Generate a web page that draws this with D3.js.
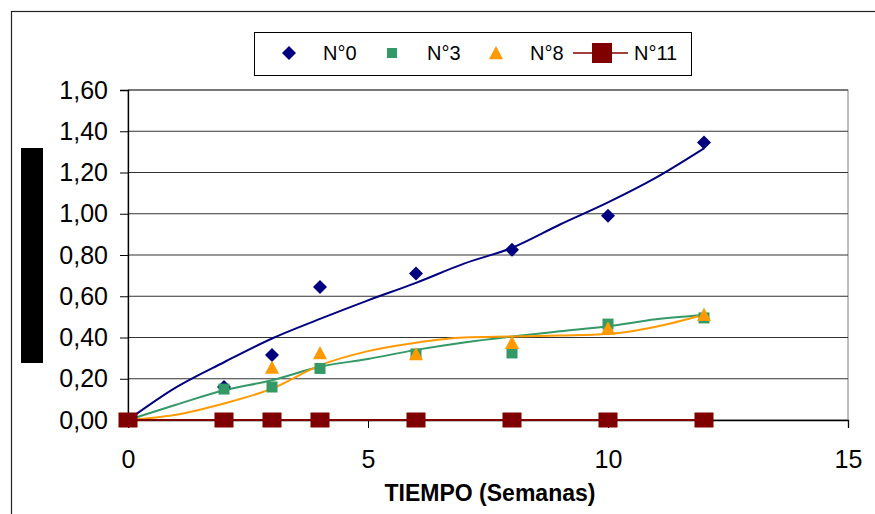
<!DOCTYPE html>
<html>
<head>
<meta charset="utf-8">
<script src="https://cdn.jsdelivr.net/npm/d3@7/dist/d3.min.js"></script>
<style>
  html, body { margin: 0; padding: 0; background: #fff; }
  svg { display: block; font-family: "Liberation Sans", Arial, sans-serif; }
</style>
</head>
<body>
<svg id="chart" width="875" height="514"></svg>
<script>
// Measured samples (weeks) for each batch
const weeks = [0, 2, 3, 4, 6, 8, 10, 12];
const n0  = [0, 0.16, 0.315, 0.645, 0.71, 0.825, 0.99, 1.345];
const n3  = [0, 0.15, 0.16, 0.25, 0.32, 0.325, 0.465, 0.495];
const n8  = [0, 0, 0.255, 0.325, 0.32, 0.375, 0.445, 0.51];
const n11 = [0, 0, 0, 0, 0, 0, 0, 0];

// Trend lines, sampled week by week
const trendWeeks = [0, 1, 2, 3, 4, 5, 6, 7, 8, 9, 10, 11, 12];
const trend0 = [0, 0.158, 0.28, 0.395, 0.49, 0.58, 0.665, 0.758, 0.835, 0.948, 1.055, 1.175, 1.317];
const trend3 = [0, 0.074, 0.144, 0.193, 0.258, 0.296, 0.34, 0.376, 0.405, 0.43, 0.454, 0.488, 0.509];
const trend8 = [0, 0.025, 0.08, 0.152, 0.265, 0.334, 0.375, 0.4, 0.405, 0.41, 0.417, 0.452, 0.51];

// Axis ticks
const yTicks = [0, 0.2, 0.4, 0.6, 0.8, 1.0, 1.2, 1.4, 1.6];
const xTicks = [0, 5, 10, 15];

// Legend labels
const seriesNames = ["N°0", "N°3", "N°8", "N°11"];
const xTitle = "TIEMPO (Semanas)";

const svg = d3.select("#chart");
const plot = { left: 128, right: 848, top: 90, bottom: 420 };

const x = d3.scaleLinear().domain([0, 15]).range([plot.left, plot.right]);
const y = d3.scaleLinear().domain([0, 1.6]).range([plot.bottom, plot.top]);

const es = d3.formatLocale({ decimal: ",", thousands: ".", grouping: [3], currency: ["", "€"] });
const fmtY = es.format(".2f");

const navy = "#000080", green = "#339966", orange = "#FF9900", maroon = "#800000";

// Outer chart frame
svg.append("rect")
  .attr("x", 11.5).attr("y", 11.5).attr("width", 900).attr("height", 600)
  .attr("fill", "none").attr("stroke", "#222").attr("stroke-width", 1.2);

// Dark block on the left side
svg.append("rect")
  .attr("x", 21).attr("y", 148).attr("width", 22).attr("height", 215)
  .attr("fill", "#000");

// Plot area border
svg.append("rect")
  .attr("x", plot.left).attr("y", plot.top)
  .attr("width", plot.right - plot.left).attr("height", plot.bottom - plot.top)
  .attr("fill", "none").attr("stroke", "#808080").attr("stroke-width", 1);

// Horizontal gridlines
svg.append("g").selectAll("line").data(yTicks.filter(d => d > 0)).join("line")
  .attr("x1", plot.left).attr("x2", plot.right)
  .attr("y1", d => y(d)).attr("y2", d => y(d))
  .attr("stroke", "#333").attr("stroke-width", 1);

// Y axis
const yAxis = d3.axisLeft(y).tickValues(yTicks).tickFormat(fmtY).tickSize(8).tickPadding(12);
const gy = svg.append("g").attr("transform", `translate(${plot.left},0)`).call(yAxis);
gy.select(".domain").attr("stroke", "#000").attr("stroke-width", 1.3);
gy.selectAll(".tick line").attr("stroke", "#000");
gy.selectAll(".tick text").attr("font-size", 25).attr("fill", "#000")
  .attr("font-family", "Liberation Sans, Arial, sans-serif");

// X axis
const xAxis = d3.axisBottom(x).tickValues(xTicks).tickFormat(d3.format("d")).tickSize(8).tickPadding(22);
const gx = svg.append("g").attr("transform", `translate(0,${plot.bottom})`).call(xAxis);
gx.select(".domain").attr("stroke", "#000").attr("stroke-width", 1.3);
gx.selectAll(".tick line").attr("stroke", "#000");
gx.selectAll(".tick text").attr("font-size", 25).attr("fill", "#000")
  .attr("font-family", "Liberation Sans, Arial, sans-serif");

// X axis title
svg.append("text")
  .attr("x", 490).attr("y", 500.5)
  .attr("text-anchor", "middle")
  .attr("font-size", 23).attr("font-weight", "bold")
  .text(xTitle);

// Trend lines
const trendLine = d3.line().x(d => x(d[0])).y(d => y(d[1])).curve(d3.curveMonotoneX);
const trends = [[trend0, navy], [trend3, green], [trend8, orange]];
trends.forEach(([vals, col]) => {
  svg.append("path")
    .attr("d", trendLine(trendWeeks.map((w, i) => [w, vals[i]])))
    .attr("fill", "none").attr("stroke", col).attr("stroke-width", 2);
});

// N°11 connecting line
const flatLine = d3.line().x(d => x(d[0])).y(d => y(d[1]));
svg.append("path")
  .attr("d", flatLine(weeks.map((w, i) => [w, n11[i]])))
  .attr("fill", "none").attr("stroke", maroon).attr("stroke-width", 2);

// Marker shapes
const diamond = (cx, cy, r) => `M${cx},${cy - r}L${cx + r},${cy}L${cx},${cy + r}L${cx - r},${cy}Z`;
const triangle = (cx, cy, r) => `M${cx},${cy - r}L${cx + r},${cy + r * 0.9}L${cx - r},${cy + r * 0.9}Z`;

// N°0 diamonds
svg.append("g").selectAll("path").data(weeks.map((w, i) => [w, n0[i]])).join("path")
  .attr("d", d => diamond(x(d[0]), y(d[1]), 7)).attr("fill", navy);

// N°3 squares
svg.append("g").selectAll("rect").data(weeks.map((w, i) => [w, n3[i]])).join("rect")
  .attr("x", d => x(d[0]) - 5.5).attr("y", d => y(d[1]) - 5.5)
  .attr("width", 11).attr("height", 11).attr("fill", green);

// N°8 triangles
svg.append("g").selectAll("path").data(weeks.map((w, i) => [w, n8[i]])).join("path")
  .attr("d", d => triangle(x(d[0]), y(d[1]), 7)).attr("fill", orange);

// N°11 squares
svg.append("g").selectAll("rect").data(weeks.map((w, i) => [w, n11[i]])).join("rect")
  .attr("x", d => x(d[0]) - 9.5).attr("y", d => y(d[1]) - 7.5)
  .attr("width", 19).attr("height", 15).attr("fill", maroon);

// Legend
const lg = svg.append("g");
lg.append("rect").attr("x", 254.5).attr("y", 32.5).attr("width", 437).attr("height", 43)
  .attr("fill", "#fff").attr("stroke", "#000").attr("stroke-width", 1);
const ly = 53;
lg.append("path").attr("d", diamond(289, ly, 7)).attr("fill", navy);
lg.append("rect").attr("x", 387).attr("y", ly - 5).attr("width", 10).attr("height", 10).attr("fill", green);
lg.append("path").attr("d", triangle(496, ly, 7)).attr("fill", orange);
lg.append("line").attr("x1", 573).attr("x2", 628).attr("y1", ly).attr("y2", ly)
  .attr("stroke", maroon).attr("stroke-width", 1.5);
lg.append("rect").attr("x", 592).attr("y", ly - 10).attr("width", 20).attr("height", 20).attr("fill", maroon);
const labelX = [323, 427, 530, 634];
lg.selectAll("text").data(seriesNames).join("text")
  .attr("x", (d, i) => labelX[i]).attr("y", 60)
  .attr("font-size", 20).attr("fill", "#000")
  .text(d => d);
</script>
</body>
</html>
